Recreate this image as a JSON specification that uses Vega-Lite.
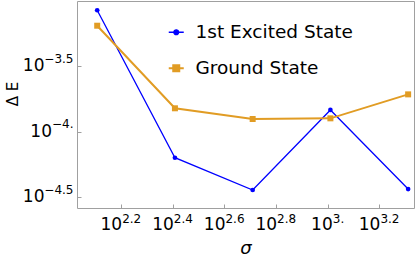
{
  "$schema": "https://vega.github.io/schema/vega-lite/v6.json",
  "width": 337,
  "height": 207,
  "autosize": "none",
  "padding": {"left": 77, "top": 1, "right": 1, "bottom": 50},
  "background": "white",
  "config": {
    "font": "DejaVu Sans",
    "view": {"stroke": "#a0a0a0", "strokeWidth": 1},
    "axis": {"domain": false, "grid": false, "labelColor": "black", "titleColor": "black", "tickColor": "#a0a0a0", "labelFont": "DejaVu Sans", "titleFont": "DejaVu Sans", "titleFontWeight": "normal", "labelFlush": false, "labelOverlap": false}
  },
  "data": {
    "values": [
      {"series": "1st Excited State", "sigma": 128, "dE": 0.00085},
      {"series": "1st Excited State", "sigma": 256, "dE": 0.0000632},
      {"series": "1st Excited State", "sigma": 512, "dE": 0.0000358},
      {"series": "1st Excited State", "sigma": 1024, "dE": 0.0001466},
      {"series": "1st Excited State", "sigma": 2048, "dE": 0.0000364},
      {"series": "Ground State", "sigma": 128, "dE": 0.000647},
      {"series": "Ground State", "sigma": 256, "dE": 0.000151},
      {"series": "Ground State", "sigma": 512, "dE": 0.000125},
      {"series": "Ground State", "sigma": 1024, "dE": 0.0001265},
      {"series": "Ground State", "sigma": 2048, "dE": 0.000193}
    ]
  },
  "layer": [
    {
      "mark": {"type": "line"},
      "encoding": {
        "x": {
          "field": "sigma", "type": "quantitative",
          "scale": {"type": "log", "domain": [106.9, 2158], "nice": false},
          "axis": {
            "orient": "bottom",
            "values": [158.489, 251.189, 398.107, 630.957, 1000, 1584.893],
            "labelExpr": "'10'",
            "labelAlign": "right", "labelBaseline": "alphabetic",
            "labelPadding": 21.5,
            "labelOffset": {"condition": {"test": "datum.value == 1000", "value": 4.5}, "value": 0.5},
            "ticks": false, "labelFontSize": 17,
            "title": "σ", "titleFontStyle": "italic", "titleFontSize": 18,
            "titleBaseline": "alphabetic", "titleY": 45.5
          }
        },
        "y": {
          "field": "dE", "type": "quantitative",
          "scale": {"type": "log", "domain": [0.00002606, 0.001], "nice": false},
          "axis": {
            "orient": "left",
            "values": [0.000316228, 0.0001, 0.0000316228],
            "labelExpr": "'10'",
            "labelAlign": "right", "labelBaseline": "alphabetic",
            "labelOffset": 4.5,
            "labelPadding": {"condition": {"test": "datum.value == 0.0001", "value": 25.5}, "value": 33},
            "ticks": false, "labelFontSize": 17,
            "title": "Δ E", "titleFontSize": 15, "titleAngle": 270,
            "titleBaseline": "alphabetic", "titleAlign": "center",
            "titleX": -60, "titleY": 92.5
          }
        },
        "color": {
          "field": "series", "type": "nominal",
          "scale": {"domain": ["1st Excited State", "Ground State"], "range": ["#0000ff", "#e19c24"]},
          "legend": {
            "orient": "none", "legendX": 90, "legendY": 22,
            "title": null, "padding": 0,
            "labelFont": "DejaVu Sans", "labelFontSize": 18.5, "labelColor": "black",
            "labelOffset": 10, "rowPadding": 17,
            "symbolSize": 225, "symbolStrokeWidth": 1.5,
            "encoding": {
              "symbols": {
                "shape": {"condition": {"test": "datum.value === 'Ground State'", "value": "M-1,0H1M-0.4,-0.4H0.4V0.4H-0.4Z"}, "value": "M-1,0H1M0.32,0A0.32,0.32 0 1,1 -0.32,0A0.32,0.32 0 1,1 0.32,0Z"},
                "fill": {"condition": {"test": "datum.value === 'Ground State'", "value": "#e19c24"}, "value": "#0000ff"},
                "strokeWidth": {"condition": {"test": "datum.value === 'Ground State'", "value": 2}, "value": 1.3}
              }
            }
          }
        },
        "strokeWidth": {
          "field": "series", "type": "nominal",
          "scale": {"domain": ["1st Excited State", "Ground State"], "range": [1.3, 2]},
          "legend": null
        }
      }
    },
    {
      "transform": [{"filter": "datum.series === '1st Excited State'"}],
      "mark": {"type": "point", "filled": true, "opacity": 1, "shape": "circle", "size": 22, "color": "#0000ff"},
      "encoding": {
        "x": {
          "field": "sigma", "type": "quantitative",
          "axis": {
            "orient": "bottom",
            "values": [158.489, 251.189, 398.107, 630.957, 1000, 1584.893],
            "labelExpr": "replace(format(log(datum.value)/LN10, '.1f'), '.0', '.')",
            "labelAlign": "left", "labelBaseline": "alphabetic",
            "tickSize": -4, "labelPadding": 18,
            "labelOffset": {"condition": {"test": "datum.value == 1000", "value": 4.5}, "value": 0.5},
            "labelFontSize": 12, "title": null
          }
        },
        "y": {
          "field": "dE", "type": "quantitative",
          "axis": {
            "orient": "left",
            "values": [0.000316228, 0.0001, 0.0000316228],
            "labelExpr": "replace(format(log(datum.value)/LN10, '.1f'), '.0', '.')",
            "labelAlign": "right", "labelBaseline": "alphabetic",
            "tickSize": -4, "labelPadding": 8,
            "labelOffset": -4,
            "labelFontSize": 12, "title": null
          }
        }
      }
    },
    {
      "transform": [{"filter": "datum.series === 'Ground State'"}],
      "mark": {"type": "point", "filled": true, "opacity": 1, "shape": "square", "size": 36, "color": "#e19c24"},
      "encoding": {
        "x": {"field": "sigma", "type": "quantitative", "axis": null},
        "y": {"field": "dE", "type": "quantitative", "axis": null}
      }
    }
  ],
  "resolve": {"axis": {"x": "independent", "y": "independent"}}
}
